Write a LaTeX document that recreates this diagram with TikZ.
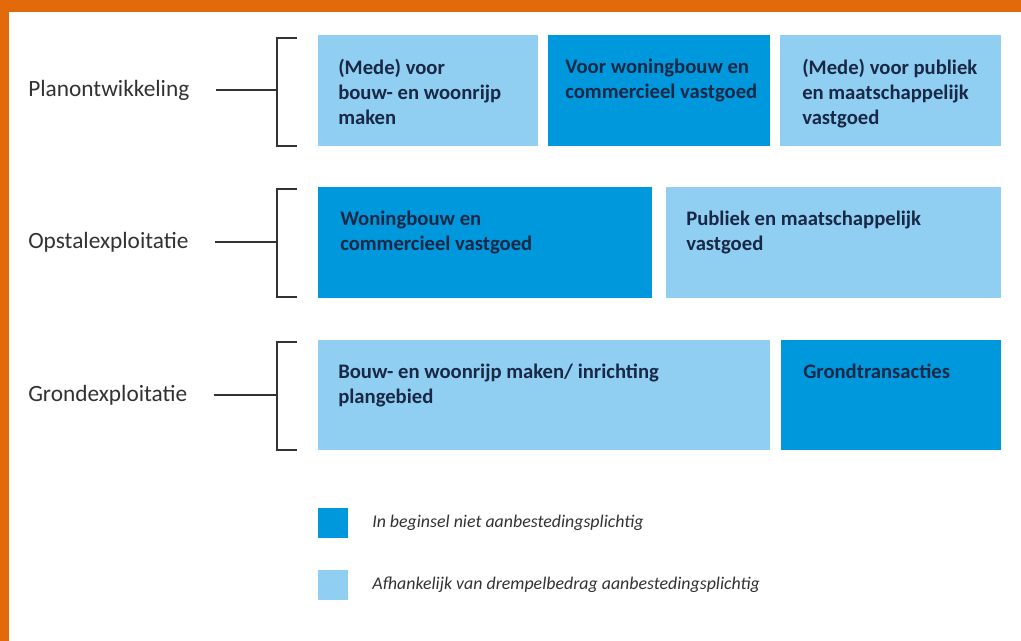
\documentclass[tikz,border=0pt]{standalone}
\usepackage{fontspec}
\setmainfont{Carlito}
\usetikzlibrary{positioning}
\definecolor{donkerblauw}{RGB}{0,152,220}
\definecolor{lichtblauw}{RGB}{145,207,242}
\definecolor{tekstblauw}{RGB}{24,40,70}
\definecolor{oranje}{RGB}{226,106,10}
\definecolor{lijngrijs}{RGB}{50,50,50}

\begin{document}
\begin{tikzpicture}[x=0.75pt,y=-0.75pt,
      blok/.style={anchor=north west,inner sep=0pt,outer sep=0pt},
      bloktekst/.style={anchor=north west,inner sep=0pt,align=left,text=tekstblauw,
        font=\fontsize{15.5}{18.75}\selectfont\bfseries},
      fase/.style={anchor=west,inner sep=0pt,text=lijngrijs,font=\fontsize{17.5}{21}\selectfont},
      legenda/.style={anchor=west,inner sep=0pt,text=lijngrijs,font=\fontsize{13.4}{16}\selectfont\itshape},
      haak/.style={draw=lijngrijs,line width=1.4pt}]
      % achtergrond en oranje rand
      \fill[white] (0,0) rectangle (1021,641);
      \useasboundingbox (0,0) rectangle (1021,641);
      \fill[oranje] (0,0) rectangle (1021,12);
      \fill[oranje] (0,0) rectangle (9,641);

      % Planontwikkeling
      \node[blok,fill=lichtblauw,minimum width=220*0.75pt,minimum height=111*0.75pt] (medebouw) at (318,35) {};
      \node[blok,fill=donkerblauw,minimum width=222*0.75pt,minimum height=111*0.75pt] (voorwoning) at (548,35) {};
      \node[blok,fill=lichtblauw,minimum width=221*0.75pt,minimum height=111*0.75pt] (medepubliek) at (780,35) {};
      \node[bloktekst] at ([shift={(20,24)}]medebouw.north west) {(Mede) voor\\bouw- en woonrijp\\maken};
      \node[bloktekst] at ([shift={(17,24)}]voorwoning.north west) {Voor woningbouw en\\commercieel vastgoed};
      \node[bloktekst] at ([shift={(22,24)}]medepubliek.north west) {(Mede) voor publiek\\en maatschappelijk\\vastgoed};

      % Opstalexploitatie
      \node[blok,fill=donkerblauw,minimum width=334*0.75pt,minimum height=111*0.75pt] (woningbouw) at (318,187) {};
      \node[blok,fill=lichtblauw,minimum width=335*0.75pt,minimum height=111*0.75pt] (publiek) at (666,187) {};
      \node[bloktekst] at ([shift={(22,24)}]woningbouw.north west) {Woningbouw en\\commercieel vastgoed};
      \node[bloktekst] at ([shift={(20,24)}]publiek.north west) {Publiek en maatschappelijk\\vastgoed};

      % Grondexploitatie
      \node[blok,fill=lichtblauw,minimum width=452*0.75pt,minimum height=110*0.75pt] (woonrijp) at (318,340) {};
      \node[blok,fill=donkerblauw,minimum width=220*0.75pt,minimum height=110*0.75pt] (grond) at (781,340) {};
      \node[bloktekst] at ([shift={(20,24)}]woonrijp.north west) {Bouw- en woonrijp maken/ inrichting\\plangebied};
      \node[bloktekst] at ([shift={(22,24)}]grond.north west) {Grondtransacties};

      % fasen met haken
      \node[fase] (plan) at (28,90) {Planontwikkeling};
      \node[fase] (opstal) at (28,242) {Opstalexploitatie};
      \node[fase] (grondex) at (28,395) {Grondexploitatie};
      \coordinate (planhaak) at (277,90);
      \coordinate (opstalhaak) at (277,242);
      \coordinate (grondhaak) at (277,395);
      \draw[haak] (297,38) -- (277,38) -- (277,146) -- (297,146);
      \draw[haak] (297,189) -- (277,189) -- (277,297) -- (297,297);
      \draw[haak] (297,342) -- (277,342) -- (277,450) -- (297,450);
      \draw[haak,shorten <=26pt*0.75] (plan) -- (planhaak);
      \draw[haak,shorten <=26pt*0.75] (opstal) -- (opstalhaak);
      \draw[haak,shorten <=26pt*0.75] (grondex) -- (grondhaak);

      % legenda
      \node[blok,fill=donkerblauw,minimum size=30*0.75pt] (donker) at (318,508) {};
      \node[blok,fill=lichtblauw,minimum size=30*0.75pt] (licht) at (318,570) {};
      \node[legenda] (nietplicht) at (372,523) {In beginsel niet aanbestedingsplichtig};
      \node[legenda] (drempel) at (372,585) {Afhankelijk van drempelbedrag aanbestedingsplichtig};
    \end{tikzpicture}
\end{document}
